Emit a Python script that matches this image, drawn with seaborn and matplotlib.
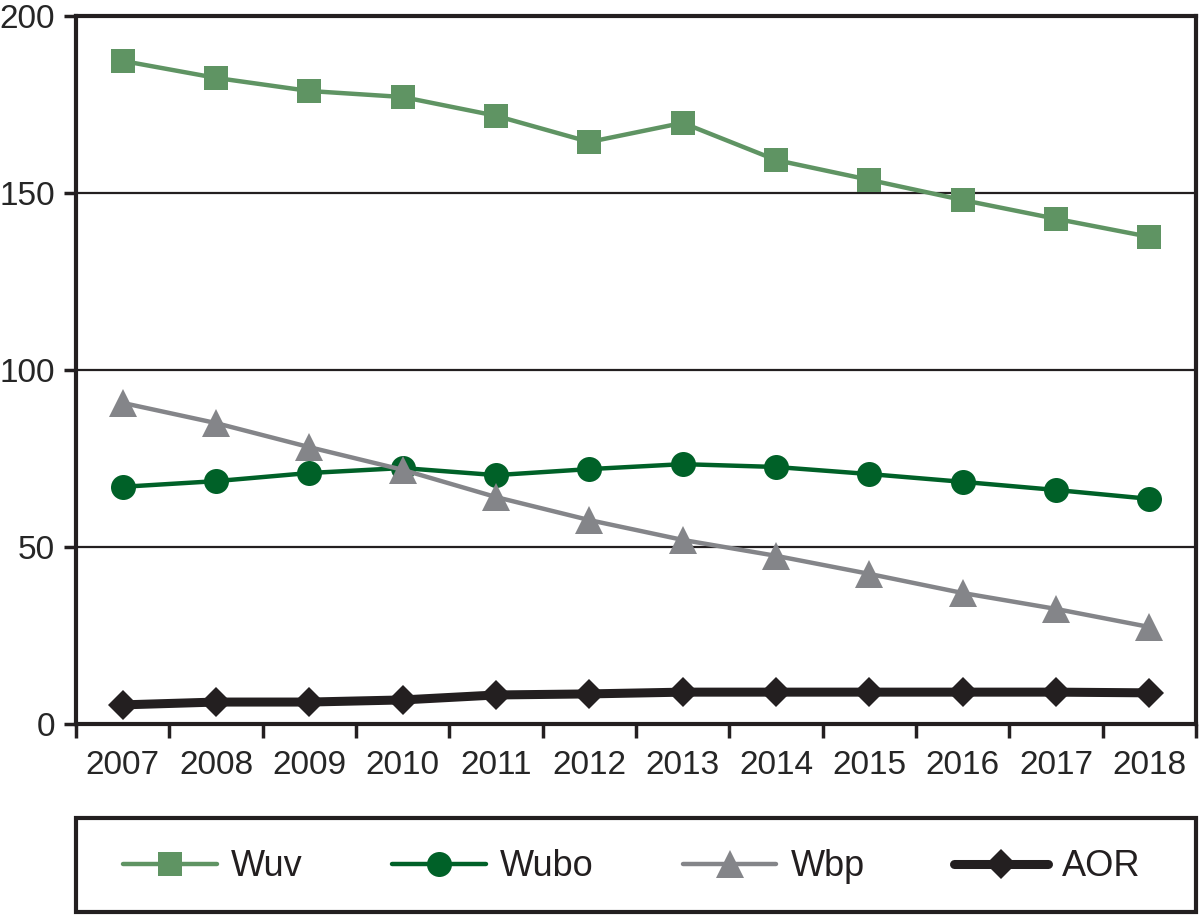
import pandas as pd
import seaborn as sns
import matplotlib.pyplot as plt
from matplotlib.patches import Rectangle
from matplotlib.ticker import FixedLocator

years = [2007, 2008, 2009, 2010, 2011, 2012, 2013, 2014, 2015, 2016, 2017, 2018]
wuv = [187.3, 182.5, 178.8, 177.1, 171.8, 164.4, 169.8, 159.3, 153.7, 148.0, 142.7, 137.6]
wubo = [67.0, 68.6, 70.9, 72.3, 70.3, 72.0, 73.4, 72.6, 70.6, 68.4, 66.1, 63.6]
wbp = [90.7, 85.0, 78.2, 71.8, 64.1, 57.6, 52.0, 47.5, 42.4, 37.0, 32.5, 27.4]
aor = [5.4, 6.2, 6.2, 6.8, 8.2, 8.5, 9.0, 9.0, 9.0, 9.0, 9.0, 8.8]

series = {'Wuv': wuv, 'Wubo': wubo, 'Wbp': wbp, 'AOR': aor}
colors = {'Wuv': '#5f9463', 'Wubo': '#006128', 'Wbp': '#848589', 'AOR': '#231f20'}
markers = {'Wuv': 's', 'Wubo': 'o', 'Wbp': '^', 'AOR': 'D'}
widths = {'Wuv': 3.2, 'Wubo': 3.2, 'Wbp': 3.2, 'AOR': 6.5}
msizes = {'Wuv': 17, 'Wubo': 18, 'Wbp': 20, 'AOR': 15}

df = pd.DataFrame({'year': years, **series})

sns.set_style('white')
plt.rcParams['font.family'] = ['Liberation Sans', 'DejaVu Sans']

fig = plt.figure(figsize=(12, 9.16), dpi=100)
ax = fig.add_axes([0.0633, 0.2096, 0.9334, 0.773])

for name in series:
    sns.lineplot(data=df, x='year', y=name, ax=ax, color=colors[name],
                 marker=markers[name], markersize=msizes[name],
                 markeredgewidth=0, linewidth=widths[name], label=name,
                 zorder=3)

ax.set_xlim(2006.5, 2018.5)
ax.set_ylim(0, 200)
ax.set_yticks([0, 50, 100, 150, 200])
ax.set_xticks(years)
ax.set_xticklabels([str(y) for y in years])
ax.xaxis.set_minor_locator(FixedLocator([y - 0.5 for y in years] + [2018.5]))
ax.tick_params(axis='x', which='major', length=0, labelsize=24, pad=19)
ax.tick_params(axis='x', which='minor', bottom=True, length=10, width=2.5,
               color='#231f20', direction='out')
ax.tick_params(axis='y', left=True, length=9, width=2.5, color='#231f20',
               labelsize=24, pad=6, direction='out')
ax.set_xlabel('')
ax.set_ylabel('')

for y in [50, 100, 150]:
    ax.axhline(y, color='#231f20', linewidth=1.6, zorder=1)
for s in ax.spines.values():
    s.set_color('#231f20')
    s.set_linewidth(3)

handles, labels = ax.get_legend_handles_labels()
ax.get_legend().remove()

# legend frame spans the plot width, entries sit inside it
fig.patches.append(Rectangle((0.0633, 0.0044), 0.9334, 0.1026,
                             transform=fig.transFigure, fill=False,
                             edgecolor='#231f20', linewidth=3))
leg = fig.legend(handles, labels, loc='center left',
                 bbox_to_anchor=(0.1025, 0.0535, 0.848, 0.0),
                 mode='expand', ncol=4, fontsize=26, handlelength=2.6,
                 frameon=False, borderaxespad=0, borderpad=0,
                 handletextpad=0.4)
for t in leg.get_texts():
    t.set_color('#231f20')

fig.savefig('out.png', dpi=100)
